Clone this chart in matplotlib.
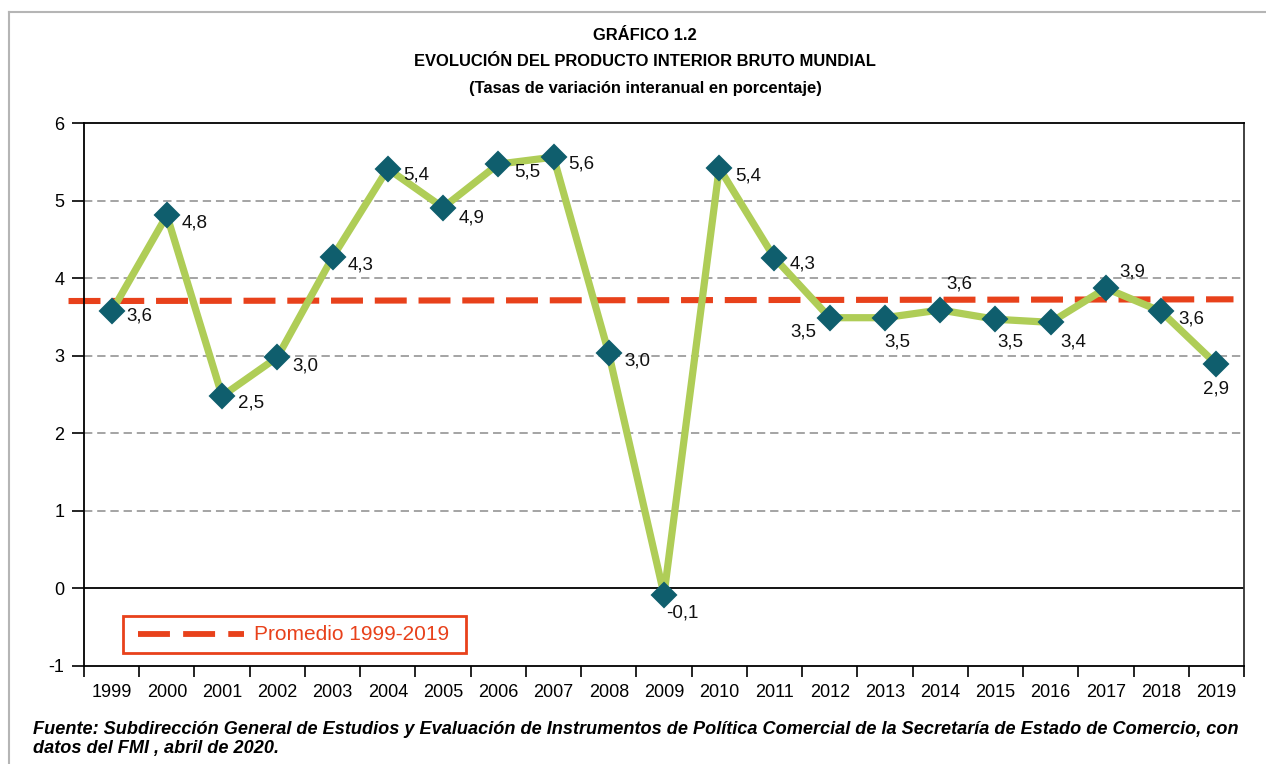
import matplotlib
matplotlib.use("Agg")
import matplotlib.pyplot as plt
from matplotlib.lines import Line2D
from matplotlib.patches import Rectangle

plt.rcParams['font.family'] = ['Liberation Sans', 'DejaVu Sans']
plt.rcParams['lines.scale_dashes'] = False

# ---- data ----
years = ['1999', '2000', '2001', '2002', '2003', '2004', '2005', '2006', '2007', '2008',
         '2009', '2010', '2011', '2012', '2013', '2014', '2015', '2016', '2017', '2018', '2019']
pib = [3.57, 4.81, 2.48, 2.98, 4.27, 5.41, 4.91, 5.47, 5.56, 3.03,
       -0.08, 5.42, 4.26, 3.49, 3.49, 3.59, 3.47, 3.43, 3.87, 3.57, 2.89]
labels = ['3,6', '4,8', '2,5', '3,0', '4,3', '5,4', '4,9', '5,5', '5,6', '3,0',
          '-0,1', '5,4', '4,3', '3,5', '3,5', '3,6', '3,5', '3,4', '3,9', '3,6', '2,9']
promedio = [3.705, 3.727]  # start / end of the drawn average line
yticks = [-1, 0, 1, 2, 3, 4, 5, 6]

# label offsets in pixels (dx right, dy down)
offsets = [(28, 5), (28, 8), (29, 7), (28, 9), (28, 8), (28, 6), (29, 10), (29, 8), (28, 7), (29, 8),
           (18, 18), (29, 8), (28, 6), (-26, 14), (12, 24), (19, -26), (15, 23), (23, 20), (26, -16), (30, 8), (0, 25)]

W, H = 1266, 764
fig = plt.figure(figsize=(W / 100, H / 100), dpi=100)
fig.patch.set_facecolor('white')
ax = fig.add_axes([84 / W, 1 - 666 / H, (1244 - 84) / W, (666 - 123) / H])

x = list(range(len(years)))
GREEN = '#AFCD57'
TEAL = '#0F5E6D'
RED = '#E8411B'

# grid lines
for v in [1, 2, 3, 4, 5]:
    ax.axhline(v, color='#8c8c8c', lw=1.1, dashes=(6, 3.5), zorder=1)
ax.axhline(0, color='black', lw=1.3, zorder=1)

# average line (extends slightly outside axes as in the original)
ax.plot([-0.78, 20.31], promedio, color=RED, lw=4.4, dashes=(23, 8.5), zorder=2,
        clip_on=False, solid_capstyle='butt', dash_capstyle='butt')

# main series
ax.plot(x, pib, color=GREEN, lw=5.2, zorder=3, solid_joinstyle='round',
        solid_capstyle='round')
ax.plot(x, pib, linestyle='none', marker='D', markersize=12, color=TEAL,
        markeredgecolor=TEAL, markeredgewidth=1.5, zorder=4)
for xi, yi, lab, (dx, dy) in zip(x, pib, labels, offsets):
    ax.annotate(lab, (xi, yi), xytext=(dx * 0.72, -dy * 0.72), textcoords='offset points',
                ha='center', va='center', fontsize=13.5, color='#111111', zorder=5)

ax.set_xlim(-0.5, len(years) - 0.5)
ax.set_ylim(-1, 6)
ax.set_yticks(yticks)
ax.set_yticklabels([str(t) for t in yticks], fontsize=13)
ax.set_xticks(x)
ax.set_xticklabels(years, fontsize=13)
ax.set_xticks([i - 0.5 for i in range(len(years) + 1)], minor=True)
ax.tick_params(axis='x', which='major', length=0, pad=13)
ax.tick_params(axis='x', which='minor', length=8, width=1.2, color='black')
ax.tick_params(axis='y', which='major', length=9, width=1.2, pad=5, color='black')
for s in ax.spines.values():
    s.set_color('black')
    s.set_linewidth(1.3)
ax.spines['right'].set_color('#333333')

# legend (manual box)
fig.add_artist(Rectangle((123 / W, 1 - 653 / H), (466 - 123) / W, (653 - 616) / H,
                         transform=fig.transFigure, fill=False, edgecolor=RED, lw=2))
fig.add_artist(Line2D([138 / W, 244 / W], [1 - 634 / H] * 2, transform=fig.transFigure,
                      color=RED, lw=4.2, dashes=(23, 9.5), solid_capstyle='butt',
                      dash_capstyle='butt'))
fig.text(254 / W, 1 - 634 / H, 'Promedio 1999-2019', color=RED, fontsize=15,
         ha='left', va='center')

# titles
fig.text(645 / W, 1 - 36 / H, 'GRÁFICO 1.2', ha='center', va='center', fontsize=11.9,
         fontweight='bold')
fig.text(645 / W, 1 - 62 / H, 'EVOLUCIÓN DEL PRODUCTO INTERIOR BRUTO MUNDIAL', ha='center',
         va='center', fontsize=11.9, fontweight='bold')
fig.text(645 / W, 1 - 89 / H, '(Tasas de variación interanual en porcentaje)', ha='center',
         va='center', fontsize=11.9, fontweight='bold')

# footer
fig.text(33 / W, 1 - 730 / H,
         'Fuente: Subdirección General de Estudios y Evaluación de Instrumentos de Política '
         'Comercial de la Secretaría de Estado de Comercio, con',
         ha='left', va='center', fontsize=13.1, fontweight='bold', style='italic')
fig.text(33 / W, 1 - 749 / H, 'datos del FMI , abril de 2020.',
         ha='left', va='center', fontsize=13.1, fontweight='bold', style='italic')

# outer border lines
fig.add_artist(Line2D([9 / W, 1.0], [1 - 12 / H] * 2, transform=fig.transFigure,
                      color='#b5b5b5', lw=1.5))
fig.add_artist(Line2D([9 / W, 9 / W], [0, 1 - 12 / H], transform=fig.transFigure,
                      color='#b5b5b5', lw=1.5))

fig.savefig('out.png', dpi=100)
